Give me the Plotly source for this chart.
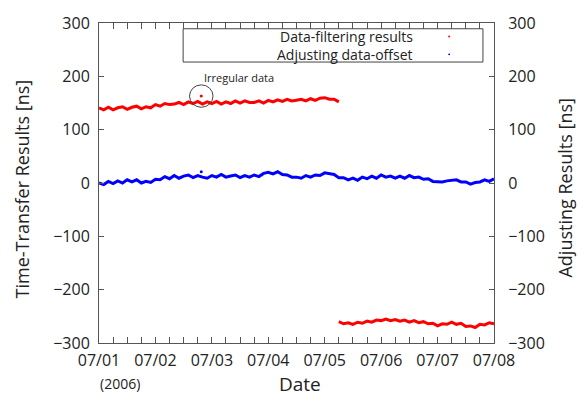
import pandas as pd
import plotly.graph_objects as go

# ---------------- data (2-hour spacing) ----------------
blue_start = "2006-07-01 00:00"
blue_values = [0, -3, 3, -1, 4, 0, 6, 2, 6, 0,
               3, 1, 7, 6, 12, 8, 14, 9, 13, 15,
               10, 14, 11, 9, 14, 11, 16, 11, 13, 15,
               10, 14, 11, 15, 12, 18, 20, 17, 21, 16,
               15, 11, 11, 9, 14, 11, 15, 14, 19, 17,
               16, 10, 10, 6, 9, 5, 11, 8, 13, 9,
               15, 11, 13, 9, 13, 9, 14, 10, 11, 7,
               8, 3, 3, 2, 4, 5, 6, 2, 2, -2,
               1, 2, 6, 3, 8]

red1_start = "2006-07-01 00:00"
red1_values = [141, 137, 142, 137, 141, 143, 138, 142, 144, 139,
               143, 141, 147, 144, 149, 147, 148, 151, 147, 152,
               149, 153, 148, 152, 149, 153, 148, 152, 149, 154,
               150, 154, 151, 151, 154, 150, 155, 152, 156, 153,
               157, 154, 155, 157, 154, 158, 155, 159, 160, 157,
               157, 152]

red2_start = "2006-07-05 06:00"
red2_values = [-260, -264, -262, -265, -261, -263, -259, -261, -257, -258,
               -255, -258, -256, -259, -257, -261, -258, -262, -260, -264,
               -263, -268, -264, -265, -261, -265, -263, -269, -268, -271,
               -265, -266, -262, -264]

irregular_time = "2006-07-02 19:30"
irregular_red = 163
irregular_blue = 21

x_tick_vals = ["2006-07-0%d" % d for d in range(1, 9)]
x_tick_text = ["07/0%d" % d for d in range(1, 9)]
y_ticks = [-300, -200, -100, 0, 100, 200, 300]

# ---------------- figure ----------------
RED = "#ff0000"
BLUE = "#0000ff"
AXC = "#555555"
TXT = "#222222"
FONT = "Open Sans"

blue_x = pd.date_range(blue_start, periods=len(blue_values), freq="2h")
red1_x = pd.date_range(red1_start, periods=len(red1_values), freq="2h")
red2_x = pd.date_range(red2_start, periods=len(red2_values), freq="2h")

fig = go.Figure()
for xs, ys, col in [(blue_x, blue_values, BLUE), (red1_x, red1_values, RED),
                    (red2_x, red2_values, RED)]:
    fig.add_trace(go.Scatter(x=xs, y=ys, mode="lines",
                             line=dict(color=col, width=3), showlegend=False))
fig.add_trace(go.Scatter(x=[irregular_time], y=[irregular_red], mode="markers",
                         marker=dict(color=RED, size=3), showlegend=False))
fig.add_trace(go.Scatter(x=[irregular_time], y=[irregular_blue], mode="markers",
                         marker=dict(color=BLUE, size=3), showlegend=False))
# invisible trace to activate the right axis
fig.add_trace(go.Scatter(x=[blue_x[0]], y=[0], yaxis="y2", mode="markers",
                         marker=dict(opacity=0), showlegend=False, hoverinfo="skip"))

# circle around the irregular point
t = pd.Timestamp(irregular_time)
fig.add_shape(type="circle", xref="x", yref="y",
              x0=t - pd.Timedelta(hours=5), x1=t + pd.Timedelta(hours=5),
              y0=irregular_red - 21, y1=irregular_red + 21,
              line=dict(color="#444444", width=1))

# legend box (custom: text then symbol)
fig.add_shape(type="rect", xref="paper", yref="paper", x0=0.213, x1=0.972,
              y0=0.878, y1=0.982, line=dict(color="#444444", width=1),
              fillcolor="white")
legend_items = [("Data-filtering results", RED, 0.958), ("Adjusting data-offset", BLUE, 0.902)]
for label, col, yy in legend_items:
    fig.add_annotation(xref="paper", yref="paper", x=0.800, y=yy, text=label,
                       showarrow=False, xanchor="right", yanchor="middle",
                       font=dict(family=FONT, size=14, color=TXT))
    fig.add_shape(type="circle", xref="paper", yref="paper",
                  x0=0.884, x1=0.889, y0=yy - 0.003, y1=yy + 0.003,
                  line=dict(color=col, width=0), fillcolor=col)

fig.add_annotation(xref="paper", yref="paper", x=0.262, y=0.829, text="Irregular data",
                   showarrow=False, xanchor="left", yanchor="middle",
                   font=dict(family=FONT, size=11, color=TXT))
fig.add_annotation(xref="paper", yref="paper", x=0.053, y=-0.128, text="(2006)",
                   showarrow=False, xanchor="center", yanchor="middle",
                   font=dict(family=FONT, size=14, color=TXT))
fig.add_annotation(xref="paper", yref="paper", x=0.509, y=-0.128, text="Date",
                   showarrow=False, xanchor="center", yanchor="middle",
                   font=dict(family=FONT, size=19, color=TXT))
fig.add_annotation(xref="paper", yref="paper", x=-0.195, y=0.483,
                   text="Time-Transfer Results [ns]", textangle=-90,
                   showarrow=False, xanchor="center", yanchor="middle",
                   font=dict(family=FONT, size=18, color=TXT))
fig.add_annotation(xref="paper", yref="paper", x=1.18, y=0.483,
                   text="Adjusting Results [ns]", textangle=-90,
                   showarrow=False, xanchor="center", yanchor="middle",
                   font=dict(family=FONT, size=18, color=TXT))

tickfont = dict(family=FONT, size=16, color=TXT)
fig.update_layout(
    width=586, height=397,
    margin=dict(l=99, r=92, t=16, b=54),
    paper_bgcolor="white", plot_bgcolor="white",
    showlegend=False,
    xaxis=dict(range=[x_tick_vals[0], x_tick_vals[-1]], tickvals=x_tick_vals,
               ticktext=x_tick_text, ticks="inside", ticklen=6, tickwidth=1,
               tickcolor=AXC, showline=True, linecolor=AXC, linewidth=1,
               mirror="allticks", showgrid=False, zeroline=False,
               tickfont=tickfont, ticklabelstandoff=3,
               minor=dict(dtick=6 * 3600 * 1000, ticks="inside", ticklen=3,
                          tickcolor=AXC, showgrid=False)),
    yaxis=dict(range=[-300, 300], tickvals=y_ticks, ticks="inside", ticklen=5,
               tickcolor=AXC, showline=True, linecolor=AXC, linewidth=1,
               showgrid=False, zeroline=False, tickfont=tickfont,
               ticklabelstandoff=5),
    yaxis2=dict(range=[-300, 300], tickvals=y_ticks, ticks="inside", ticklen=5,
                tickcolor=AXC, showline=True, linecolor=AXC, linewidth=1,
                overlaying="y", side="right", showgrid=False, zeroline=False,
                tickfont=tickfont, ticklabelstandoff=10),
)

fig.write_html("out.html")
